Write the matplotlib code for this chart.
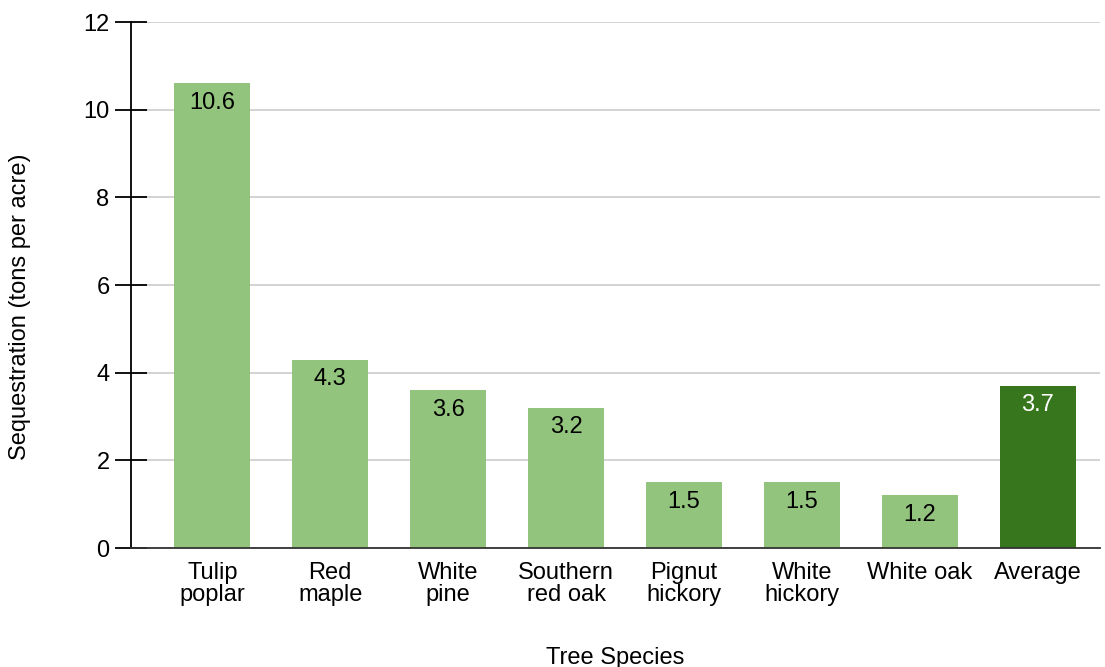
"""Carbon sequestration by tree species."""

import matplotlib

matplotlib.use("Agg")
import matplotlib.pyplot as plt

species = [
    "Tulip\npoplar",
    "Red\nmaple",
    "White\npine",
    "Southern\nred oak",
    "Pignut\nhickory",
    "White\nhickory",
    "White oak",
    "Average",
]
sequestration = [10.6, 4.3, 3.6, 3.2, 1.5, 1.5, 1.2, 3.7]
y_ticks = [0, 2, 4, 6, 8, 10, 12]

LIGHT = "#93c47d"
DARK = "#38761d"
FS = 17

plt.rcParams["font.family"] = ["Liberation Sans", "DejaVu Sans"]

fig = plt.figure(figsize=(11.05, 6.67), dpi=100)
ax = fig.add_axes([0.1186, 0.1784, 0.877, 0.7886])

x = list(range(len(species)))
colors = [LIGHT] * (len(species) - 1) + [DARK]
bars = ax.bar(x, sequestration, width=0.645, color=colors, zorder=3)

for bar, val, c in zip(bars, sequestration, colors):
    ax.annotate(
        f"{val:g}",
        xy=(bar.get_x() + bar.get_width() / 2, val),
        xytext=(0, -6),
        textcoords="offset points",
        ha="center",
        va="top",
        fontsize=FS,
        color="white" if c == DARK else "black",
        zorder=4,
    )

ax.set_xlim(-0.69, 7.53)
ax.set_ylim(0, 12)
ax.set_yticks(y_ticks)
ax.set_xticks(x)
ax.set_xticklabels(species, fontsize=FS, linespacing=0.98)
ax.tick_params(axis="x", length=0, pad=10)
ax.tick_params(axis="y", direction="inout", length=23, width=1.3, labelsize=FS, pad=4)

ax.grid(axis="y", color="#cccccc", lw=1.2, zorder=0)
for side in ("top", "right"):
    ax.spines[side].set_visible(False)
ax.spines["left"].set_linewidth(1.3)
ax.spines["bottom"].set_color("#333333")
ax.spines["bottom"].set_linewidth(1.3)
ax.spines["bottom"].set_zorder(5)

ax.set_xlabel("Tree Species", fontsize=FS, labelpad=30)
ax.set_ylabel("Sequestration (tons per acre)", fontsize=FS)
ax.yaxis.set_label_coords(-0.103, 0.458)

fig.savefig("out.png", dpi=100)
plt.close(fig)
